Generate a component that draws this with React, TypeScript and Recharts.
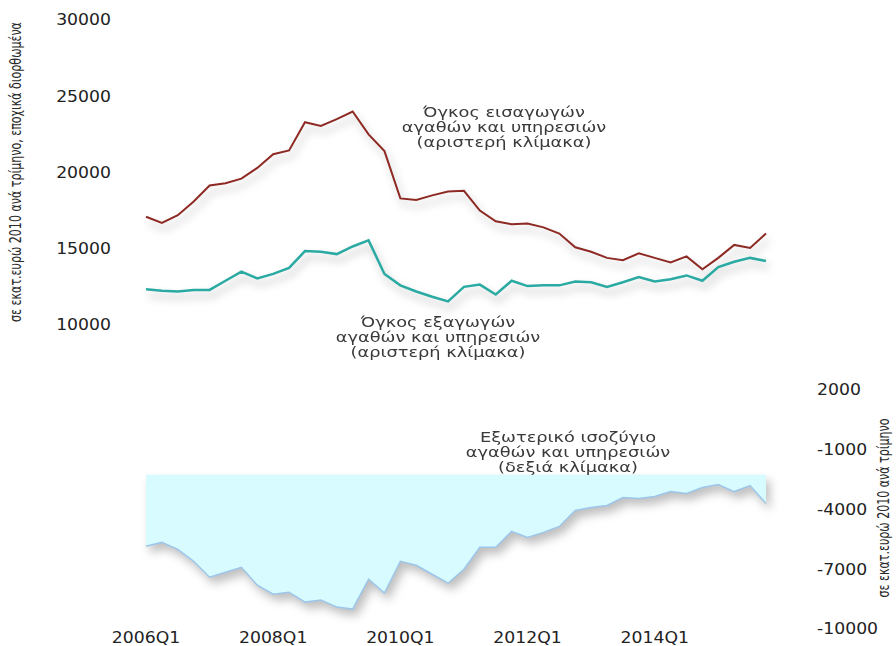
import { LineChart, Line, AreaChart, Area, XAxis, YAxis } from 'recharts'

// τριμηνιαία δεδομένα 2006Q1 - 2015Q4
const QUARTERS = [
  '2006Q1', '2006Q2', '2006Q3', '2006Q4', '2007Q1', '2007Q2', '2007Q3', '2007Q4',
  '2008Q1', '2008Q2', '2008Q3', '2008Q4', '2009Q1', '2009Q2', '2009Q3', '2009Q4',
  '2010Q1', '2010Q2', '2010Q3', '2010Q4', '2011Q1', '2011Q2', '2011Q3', '2011Q4',
  '2012Q1', '2012Q2', '2012Q3', '2012Q4', '2013Q1', '2013Q2', '2013Q3', '2013Q4',
  '2014Q1', '2014Q2', '2014Q3', '2014Q4', '2015Q1', '2015Q2', '2015Q3', '2015Q4',
]

// Όγκος εισαγωγών (αριστερή κλίμακα)
const IMPORTS = [
  17100, 16700, 17200, 18100, 19150, 19300, 19600, 20300, 21200, 21450,
  23300, 23050, 23500, 24000, 22500, 21400, 18300, 18200, 18500, 18750,
  18800, 17500, 16800, 16600, 16650, 16400, 16000, 15100, 14800, 14400,
  14250, 14700, 14400, 14100, 14500, 13650, 14400, 15250, 15050, 16000,
]

// Όγκος εξαγωγών (αριστερή κλίμακα)
const EXPORTS = [
  12350, 12250, 12200, 12300, 12300, 12900, 13500, 13050, 13350, 13750,
  14850, 14800, 14650, 15150, 15550, 13350, 12600, 12200, 11850, 11550,
  12500, 12650, 12000, 12900, 12550, 12600, 12600, 12850, 12800, 12500,
  12800, 13150, 12850, 13000, 13250, 12900, 13800, 14150, 14400, 14200,
]

// Εξωτερικό ισοζύγιο (δεξιά κλίμακα)
const BALANCE = [
  -5850, -5650, -6000, -6600, -7400, -7150, -6900, -7800, -8250, -8150,
  -8650, -8550, -8900, -9000, -7500, -8200, -6600, -6800, -7250, -7700,
  -7000, -5900, -5900, -5100, -5400, -5150, -4850, -4050, -3900, -3800,
  -3400, -3450, -3350, -3100, -3200, -2900, -2750, -3100, -2800, -3700,
]
const BALANCE_BASE = -2250

const LEFT_TICKS = [10000, 15000, 20000, 25000, 30000]
const RIGHT_TICKS = [-10000, -7000, -4000, -1000, 2000]
const X_TICKS = ['2006Q1', '2008Q1', '2010Q1', '2012Q1', '2014Q1']

const data = QUARTERS.map((q, i) => ({
  q,
  imports: IMPORTS[i],
  exports: EXPORTS[i],
  balance: BALANCE[i],
}))

const FONT = '"DejaVu Sans", sans-serif'
const NARROW = '"Liberation Sans Narrow", "DejaVu Sans Condensed", "Liberation Sans", sans-serif'

// πλατιά γράμματα όπως στο πρωτότυπο
function WideTick(props: any) {
  const { x, y, payload, textAnchor, dy } = props
  return (
    <g transform={`translate(${x},${y})`}>
      <text
        transform="scale(1.15,1)"
        textAnchor={textAnchor}
        dy={dy}
        fill="#222"
        fontSize={15}
        fontFamily={FONT}
      >
        {payload.value}
      </text>
    </g>
  )
}

const noteStyle: React.CSSProperties = {
  position: 'absolute',
  width: 300,
  textAlign: 'center',
  fontFamily: FONT,
  fontSize: 14,
  lineHeight: '15px',
  color: '#3a3a3a',
  transform: 'scaleX(1.27)',
}

// κάθετοι τίτλοι αξόνων, στενά γράμματα
const axisTitle: React.CSSProperties = {
  position: 'absolute',
  transform: 'translate(-50%, -50%) rotate(-90deg) scaleX(0.82)',
  whiteSpace: 'nowrap',
  fontFamily: NARROW,
  fontSize: 15,
  lineHeight: '16px',
  color: '#2a2a2a',
}

export default function App() {
  return (
    <div style={{ position: 'relative', width: 896, height: 646, overflow: 'hidden' }}>
      <style>{`
        body { margin: 0; }
        .recharts-line-curve { filter: drop-shadow(3px 6px 4px rgba(0,0,0,0.28)); }
        .recharts-area { filter: drop-shadow(4px 6px 5px rgba(0,0,0,0.25)); }
      `}</style>

      <div style={{ position: 'absolute', left: 8, top: 8, width: 880, height: 638 }}>
        <div style={{ position: 'absolute', left: 0, top: 0 }}>
          <LineChart width={880} height={330} data={data} margin={{ top: 12, right: 122, bottom: 13, left: 0 }}>
            <XAxis dataKey="q" scale="point" hide />
            <YAxis
              width={138}
              domain={[10000, 30000]}
              ticks={LEFT_TICKS}
              axisLine={false}
              tickLine={false}
              tickSize={0}
              tickMargin={35}
              tick={<WideTick textAnchor="end" dy="0.36em" />}
            />
            <Line dataKey="imports" stroke="#8e2a24" strokeWidth={2} dot={false} isAnimationActive={false} />
            <Line dataKey="exports" stroke="#2aaaa2" strokeWidth={2.5} dot={false} isAnimationActive={false} />
          </LineChart>
        </div>

        <div style={{ position: 'absolute', left: 0, top: 360 }}>
          <AreaChart width={880} height={278} data={data} margin={{ top: 22, right: 0, bottom: 0, left: 138 }}>
            <XAxis
              dataKey="q"
              scale="point"
              ticks={X_TICKS}
              interval={0}
              axisLine={false}
              tickLine={false}
              tickSize={0}
              tickMargin={3}
              height={17}
              tick={<WideTick textAnchor="middle" dy="0.71em" />}
            />
            <YAxis
              orientation="right"
              width={122}
              domain={[-10000, 2000]}
              ticks={RIGHT_TICKS}
              axisLine={false}
              tickLine={false}
              tickSize={0}
              tickMargin={51}
              tick={<WideTick textAnchor="start" dy="0.36em" />}
            />
            <Area
              dataKey="balance"
              baseValue={BALANCE_BASE}
              type="linear"
              stroke="#9cc6ea"
              strokeWidth={1.5}
              fill="#d8fbff"
              fillOpacity={1}
              isAnimationActive={false}
            />
          </AreaChart>
        </div>

        <div style={{ ...noteStyle, left: 496 - 150, top: 97 }}>
          Όγκος εισαγωγών
          <br />
          αγαθών και υπηρεσιών
          <br />
          (αριστερή κλίμακα)
        </div>
        <div style={{ ...noteStyle, left: 430 - 150, top: 307 }}>
          Όγκος εξαγωγών
          <br />
          αγαθών και υπηρεσιών
          <br />
          (αριστερή κλίμακα)
        </div>
        <div style={{ ...noteStyle, left: 560 - 150, top: 422 }}>
          Εξωτερικό ισοζύγιο
          <br />
          αγαθών και υπηρεσιών
          <br />
          (δεξιά κλίμακα)
        </div>

        <div style={{ ...axisTitle, left: 8, top: 164 }}>
          σε εκατ.ευρώ 2010 ανά τρίμηνο, εποχικά διορθωμένα
        </div>
        <div style={{ ...axisTitle, left: 876, top: 500 }}>σε εκατ.ευρώ 2010 ανά τρίμηνο</div>
      </div>
    </div>
  )
}
